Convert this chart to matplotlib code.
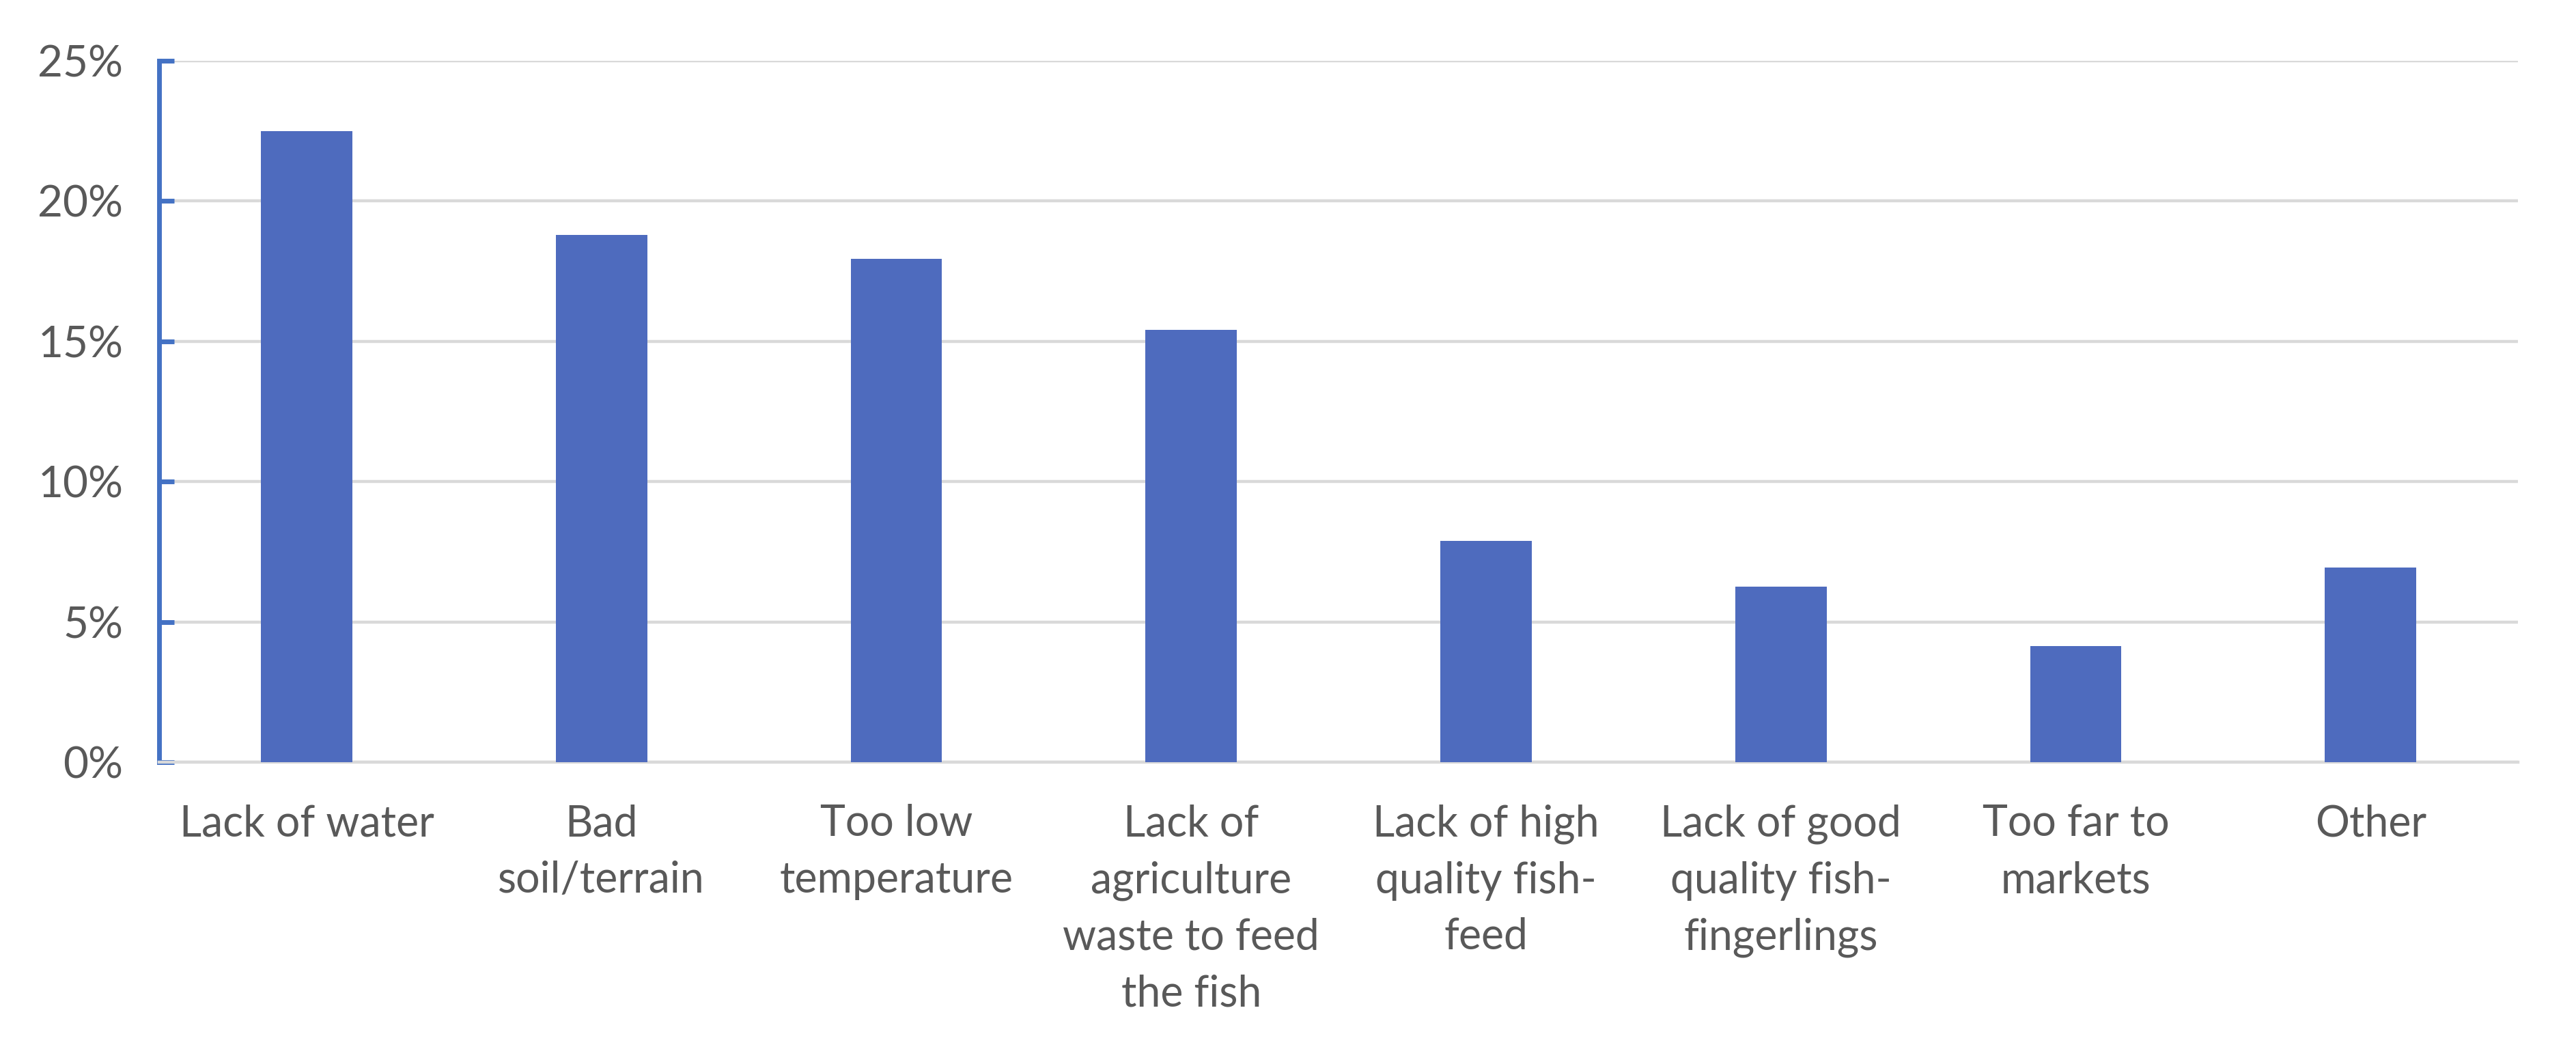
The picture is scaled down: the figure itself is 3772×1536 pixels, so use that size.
import matplotlib.pyplot as plt
import numpy as np
from matplotlib.ticker import PercentFormatter

plt.rcParams['font.family'] = ['Lato', 'DejaVu Sans']

# constraints reported (share of respondents, %)
categories = ['Lack of water', 'Bad\nsoil/terrain', 'Too low\ntemperature',
              'Lack of\nagriculture\nwaste to feed\nthe fish',
              'Lack of high\nquality fish-\nfeed',
              'Lack of good\nquality fish-\nfingerlings',
              'Too far to\nmarkets', 'Other']
shares = [22.5, 18.8, 17.95, 15.4, 7.9, 6.25, 4.15, 6.95]
y_ticks = [0, 5, 10, 15, 20, 25]

fig = plt.figure(figsize=(18.86, 7.68), dpi=200)
ax = fig.add_axes([0.0618, 0.2734, 0.9157, 0.6686])

x = np.arange(len(categories))
ax.bar(x, shares, width=0.31, color='#4E6BBE', zorder=3)

ax.set_xlim(-0.5, len(categories) - 0.5)
ax.set_ylim(0, 25)
ax.set_yticks(y_ticks)
ax.yaxis.set_major_formatter(PercentFormatter(decimals=0))
ax.set_xticks(x)
ax.set_xticklabels(categories, linespacing=1.53)

ax.grid(axis='y', color='#D9D9D9', linewidth=1.6, zorder=0)
for s in ['top', 'right']:
    ax.spines[s].set_visible(False)
ax.spines['left'].set_color('#4472C4')
ax.spines['left'].set_linewidth(2.5)
ax.spines['bottom'].set_color('#D9D9D9')
ax.spines['bottom'].set_linewidth(1.6)

ax.tick_params(axis='y', direction='in', length=8, width=2.5, color='#4472C4',
               labelsize=23, labelcolor='#595959', pad=19)
ax.tick_params(axis='x', length=0, labelsize=22.5, labelcolor='#595959', pad=22)

fig.savefig('out.png', dpi=200, facecolor='white')
